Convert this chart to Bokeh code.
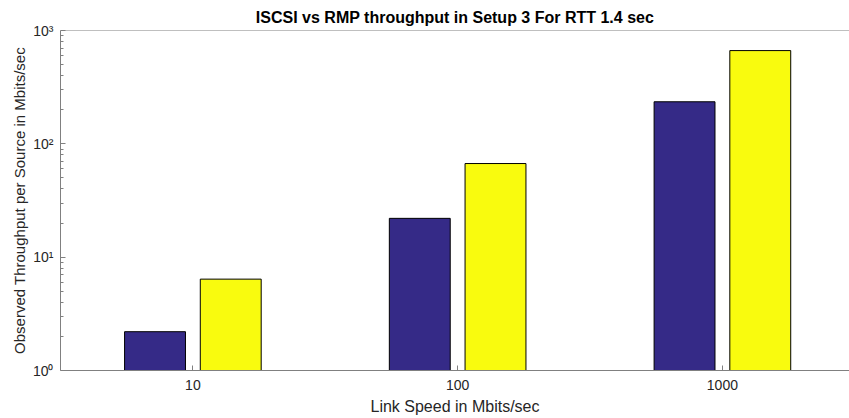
from bokeh.plotting import figure
from bokeh.models import Range1d, FixedTicker, Span, ColumnDataSource
from bokeh.embed import file_html
from bokeh.resources import INLINE

# data
categories = ["10", "100", "1000"]
iscsi = [2.2, 22, 235]
rmp = [6.4, 67, 665]
y_ticks = [1, 10, 100, 1000]
y_tick_labels = ["10⁰", "10¹", "10²", "10³"]

xpos = list(range(1, len(categories) + 1))
offset = 0.143
width = 0.23

src = ColumnDataSource(dict(
    x1=[x - offset for x in xpos], x2=[x + offset for x in xpos],
    iscsi=iscsi, rmp=rmp,
))

FONT = "Liberation Sans"
TXT = "#262626"
AX = "#808080"

p = figure(width=849, height=418, output_backend="svg", toolbar_location=None,
           y_axis_type="log", x_range=Range1d(0.5, 3.48), y_range=Range1d(1, 1000),
           title="ISCSI vs RMP throughput in Setup 3 For RTT 1.4 sec",
           min_border_left=60, min_border_right=0, min_border_top=30, min_border_bottom=48)
p.background_fill_color = "white"
p.border_fill_color = "white"
p.outline_line_color = None
p.grid.visible = False

p.title.align = "center"
p.title.text_font = FONT
p.title.text_font_size = "16px"
p.title.text_font_style = "bold"
p.title.text_color = "black"
p.title.standoff = 10

p.vbar(x="x1", top="iscsi", bottom=1, width=width, source=src,
       fill_color="#352a87", line_color="black", line_width=1)
p.vbar(x="x2", top="rmp", bottom=1, width=width, source=src,
       fill_color="#f9fb0e", line_color="black", line_width=1)

p.add_layout(Span(location=1000, dimension="width", line_color=AX, line_width=1))

xa = p.xaxis[0]
xa.ticker = FixedTicker(ticks=xpos)
xa.major_label_overrides = {x: c for x, c in zip(xpos, categories)}
xa.axis_label = "Link Speed in Mbits/sec"

ya = p.yaxis[0]
minor = [m * d for d in [1, 10, 100] for m in range(2, 10)]
ya.ticker = FixedTicker(ticks=y_ticks, minor_ticks=minor)
ya.major_label_overrides = {t: l for t, l in zip(y_ticks, y_tick_labels)}
ya.axis_label = "Observed Throughput per Source in Mbits/sec"

for ax in [xa, ya]:
    ax.axis_line_color = AX
    ax.major_tick_line_color = AX
    ax.minor_tick_line_color = AX
    ax.major_tick_in = 5
    ax.major_tick_out = 0
    ax.minor_tick_in = 3
    ax.minor_tick_out = 0
    ax.major_label_text_font = FONT
    ax.major_label_text_color = TXT
    ax.major_label_text_font_size = "14px"
    ax.axis_label_text_font = FONT
    ax.axis_label_text_color = TXT
    ax.axis_label_text_font_style = "normal"
xa.axis_label_text_font_size = "16px"
ya.axis_label_text_font_size = "15px"
xa.minor_tick_line_color = None
xa.major_label_standoff = 9
xa.axis_label_standoff = 5
ya.major_label_standoff = 7
ya.axis_label_standoff = 2

open("out.html", "w").write(file_html(p, INLINE))
